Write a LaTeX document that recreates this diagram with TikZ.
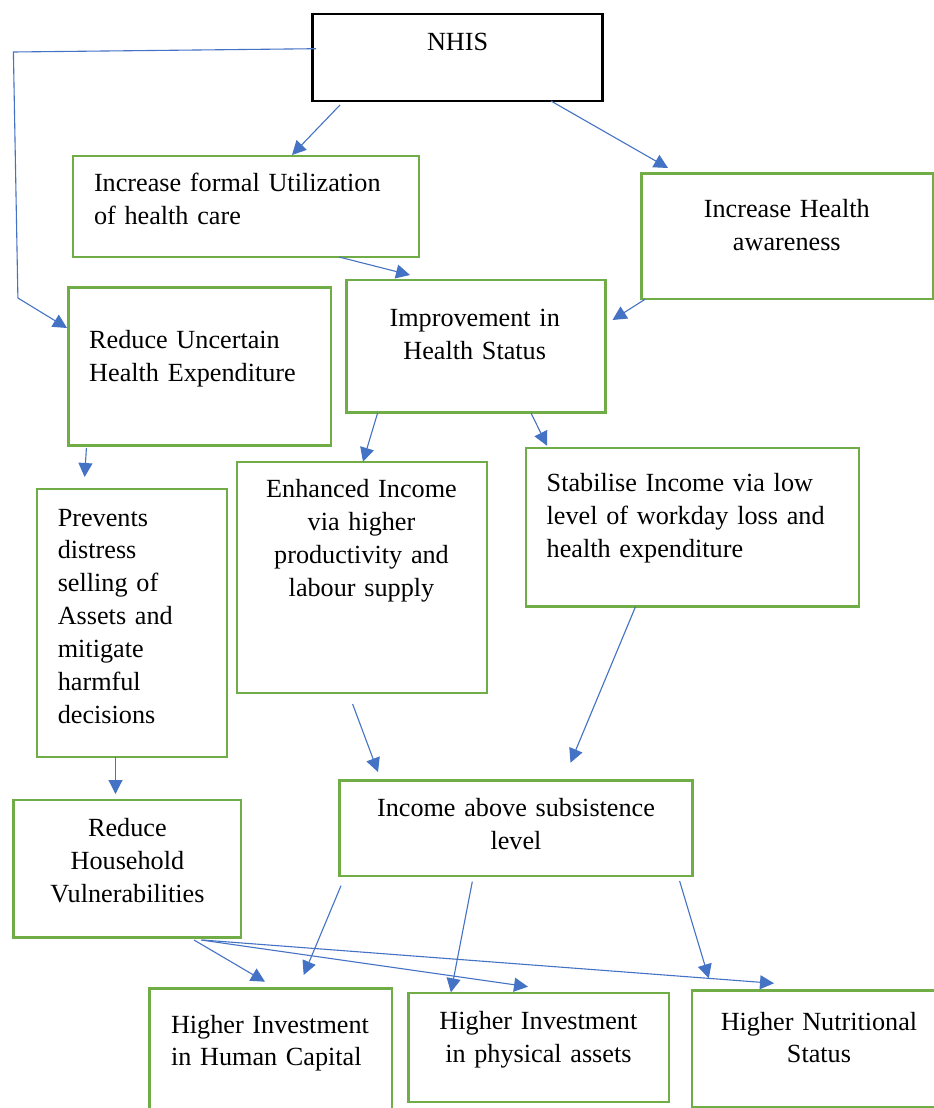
\documentclass[tikz,border=0pt]{standalone}
\usepackage{fontspec}
\setmainfont{Liberation Serif}
\usetikzlibrary{arrows.meta,calc}
\definecolor{boxgreen}{HTML}{70AD47}
\definecolor{arrblue}{HTML}{4472C4}
\begin{document}
\begin{tikzpicture}[x=1pt,y=-1pt,
  gbox/.style={draw=boxgreen,line width=2.6pt,inner sep=0pt,outer sep=0pt,anchor=north west},
  kbox/.style={draw=black,line width=2.8pt,inner sep=0pt,outer sep=0pt,anchor=north west},
  lbl/.style={inner sep=0pt,outer sep=0pt,font=\fontsize{26.2}{32.9}\selectfont},
  ltxt/.style={lbl,anchor=base west,text width=360pt,align=left},
  ctxt/.style={lbl,anchor=base,text width=340pt,align=center},
  arr/.style={draw=arrblue,line width=1.1pt,-{Triangle[length=14pt,width=14pt]}},
]
\useasboundingbox (0,0) rectangle (934,1108);
\fill[white] (0,0) rectangle (934,1108);

% boxes
\node[kbox,minimum width=290.2pt,minimum height=87pt] (nhis) at (312.5,14) {};
\node[gbox,minimum width=346pt,minimum height=101pt] (util) at (73,156) {};
\node[gbox,minimum width=291.4pt,minimum height=125.7pt] (aware) at (641.6,173.3) {};
\node[gbox,minimum width=262.5pt,minimum height=158.4pt] (reduce) at (68.5,287.3) {};
\node[gbox,minimum width=259pt,minimum height=132.5pt] (improve) at (346.3,280) {};
\node[gbox,minimum width=190pt,minimum height=268pt] (prevent) at (37,489) {};
\node[gbox,minimum width=250pt,minimum height=231pt] (enhance) at (237,462) {};
\node[gbox,minimum width=333pt,minimum height=158.5pt] (stab) at (526,448) {};
\node[gbox,minimum width=353.2pt,minimum height=95.5pt] (income) at (339.5,780.5) {};
\node[gbox,minimum width=227.3pt,minimum height=137.7pt] (house) at (13.7,800) {};
\node[gbox,minimum width=242.5pt,minimum height=140pt] (human) at (149.5,988.7) {};
\node[gbox,minimum width=260.2pt,minimum height=109pt] (phys) at (408.6,993) {};
\node[gbox,minimum width=268pt,minimum height=116.5pt] (nutr) at (692,990.7) {};

% texts
\node[ctxt] (tnhis) at (457.6,51) {NHIS};
\node[ltxt] (tutil) at (94,191.7) {Increase formal Utilization\\of health care};
\node[ctxt] (taware) at (786.8,217.7) {Increase Health\\awareness};
\node[ltxt] (treduce) at (89.2,348.3) {Reduce Uncertain\\Health Expenditure};
\node[ctxt] (timprove) at (474.7,326.7) {Improvement in\\Health Status};
\node[ltxt] (tprevent) at (57.8,526) {Prevents\\distress\\selling of\\Assets and\\mitigate\\harmful\\decisions};
\node[ctxt] (tenhance) at (361.5,497.7) {Enhanced Income\\via higher\\productivity and\\labour supply};
\node[ltxt] (tstab) at (546.7,491.7) {Stabilise Income via low\\level of workday loss and\\health expenditure};
\node[ctxt] (tincome) at (516,816.7) {Income above subsistence\\level};
\node[ctxt] (thouse) at (127.4,836.7) {Reduce\\Household\\Vulnerabilities};
\node[ltxt] (thuman) at (171,1033) {Higher Investment\\in Human Capital};
\node[ctxt] (tphys) at (538.4,1029.3) {Higher Investment\\in physical assets};
\node[ctxt] (tnutr) at (819,1030) {Higher Nutritional\\Status};

% connectors
\draw[arr] ($(nhis.north west)+(3.5,34.7)$) -- (13.4,52) -- (17.9,298) -- ($(reduce.north west)+(-1.5,40.7)$);
\draw[arr] ($(nhis.south west)+(27.5,4)$) -- ($(util.north west)+(219,-1)$);
\draw[arr] ($(nhis.south west)+(238.5,0)$) -- ($(aware.north west)+(26.4,-5.3)$);
\draw[arr] ($(util.south west)+(266,0)$) -- ($(improve.north west)+(63.7,-5)$);
\draw[arr] ($(aware.south west)+(3.4,0.3)$) -- ($(improve.north east)+(7.2,40)$);
\draw[arr] ($(improve.south west)+(31.3,0.5)$) -- ($(enhance.north west)+(126,-0.3)$);
\draw[arr] ($(improve.south west)+(184.7,0.5)$) -- ($(stab.north west)+(21,-2.3)$);
\draw[arr] ($(reduce.south west)+(17.9,2.3)$) -- ($(prevent.north west)+(47.6,-12)$);
\draw[arr] ($(prevent.south west)+(78.5,0)$) -- ($(house.north west)+(101.8,-6)$);
\draw[arr] ($(enhance.south west)+(115.6,11)$) -- ($(income.north west)+(38.5,-8.5)$);
\draw[arr] ($(stab.south west)+(109.5,0.2)$) -- ($(income.north west)+(231,-17.8)$);
\draw[arr] ($(income.south west)+(1.5,9.7)$) -- ($(human.north west)+(154.2,-13.7)$);
\draw[arr] ($(income.south west)+(132.8,5.7)$) -- ($(phys.north west)+(42.3,-0.7)$);
\draw[arr] ($(income.south west)+(340.1,5)$) -- ($(nutr.north west)+(16.8,-12.4)$);
\draw[arr] ($(house.south west)+(180.3,2.3)$) -- ($(human.north west)+(115.5,-7)$);
\draw[arr] ($(house.south west)+(187.3,2.3)$) -- ($(phys.north west)+(119.4,-6.3)$);
\draw[arr] ($(house.south west)+(188.8,2.3)$) -- ($(nutr.north west)+(82,-7.4)$);
\end{tikzpicture}
\end{document}
